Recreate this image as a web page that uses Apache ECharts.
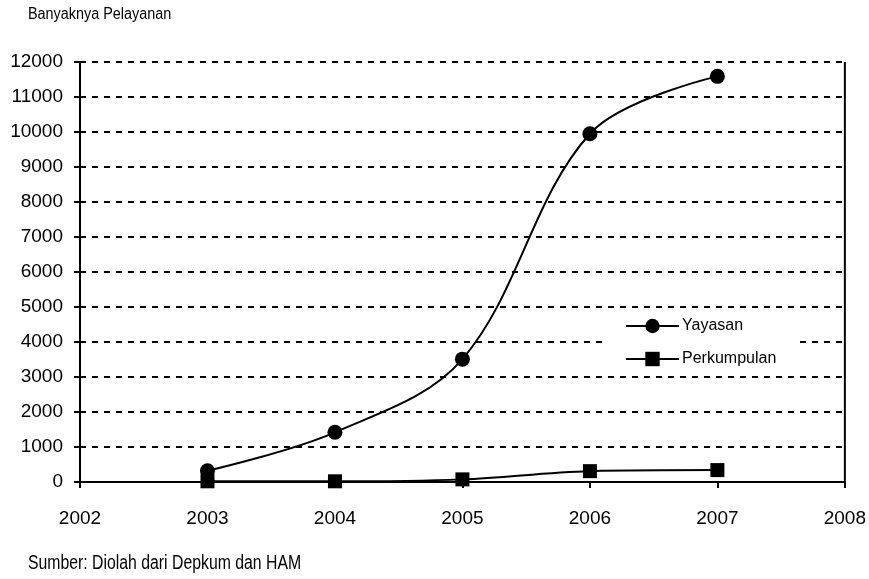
<!DOCTYPE html>
<html>
<head>
<meta charset="utf-8">
<script src="https://cdn.jsdelivr.net/npm/echarts@6/dist/echarts.min.js"></script>
<style>
  html, body { margin: 0; padding: 0; background: #fff; }
  #chart { width: 869px; height: 579px; }
</style>
</head>
<body>
<div id="chart"></div>
<script>
// Jumlah pelayanan badan hukum per tahun
const years = [2003, 2004, 2005, 2006, 2007];
const yayasan = [320, 1420, 3510, 9950, 11590];
const perkumpulan = [20, 20, 75, 310, 340];
const yTicks = [0, 1000, 2000, 3000, 4000, 5000, 6000, 7000, 8000, 9000, 10000, 11000, 12000];
const xMin = 2002, xMax = 2008;

const FONT = '"Liberation Sans", Arial, sans-serif';

const chart = echarts.init(document.getElementById('chart'), null, { renderer: 'canvas' });

const pairs = (xs, ys) => xs.map((x, i) => [x, ys[i]]);

chart.setOption({
  animation: false,
  backgroundColor: '#fff',
  textStyle: { fontFamily: FONT, color: '#000' },
  grid: { left: 80, right: 24, top: 62, bottom: 97, containLabel: false },
  graphic: [
    { type: 'text', left: 28, top: 7, scaleX: 0.9,
      style: { text: 'Banyaknya Pelayanan', font: '16px ' + FONT, fill: '#000' } },
    { type: 'text', left: 28, top: 553, scaleX: 0.79,
      style: { text: 'Sumber: Diolah dari Depkum dan HAM', font: '20px ' + FONT, fill: '#000' } }
  ],
  xAxis: {
    type: 'value', min: xMin, max: xMax, interval: 1,
    axisLine: { show: true, onZero: false, lineStyle: { color: '#000', width: 2 } },
    axisTick: { show: true, length: 6, lineStyle: { color: '#000', width: 2 } },
    axisLabel: { color: '#000', fontSize: 19, fontFamily: FONT, margin: 27,
      formatter: v => String(v) },
    splitLine: { show: false }
  },
  yAxis: {
    type: 'value', min: yTicks[0], max: yTicks[yTicks.length - 1], interval: 1000,
    axisLine: { show: true, lineStyle: { color: '#000', width: 2 } },
    axisTick: { show: true, length: 6, lineStyle: { color: '#000', width: 2 } },
    axisLabel: { color: '#000', fontSize: 19, fontFamily: FONT, margin: 17,
      formatter: v => String(v) },
    splitLine: { show: true, lineStyle: { color: '#000', width: 2, type: [6, 6] } }
  },
  legend: {
    orient: 'vertical', left: 603, top: 311,
    backgroundColor: '#fff',
    padding: [7, 22, 7, 22],
    itemWidth: 53, itemHeight: 18, itemGap: 17,
    lineStyle: { width: 2 },
    textStyle: { fontSize: 16, fontFamily: FONT, color: '#000', padding: [0, 0, 0, -2] },
    data: ['Yayasan', 'Perkumpulan']
  },
  series: [
    {
      name: 'Yayasan', type: 'line', smooth: 0.35,
      data: pairs(years, yayasan),
      symbol: 'circle', symbolSize: 15,
      lineStyle: { color: '#000', width: 2 },
      itemStyle: { color: '#000' },
      z: 3
    },
    {
      name: 'Perkumpulan', type: 'line', smooth: 0.35,
      data: pairs(years, perkumpulan),
      symbol: 'rect', symbolSize: 14,
      lineStyle: { color: '#000', width: 2 },
      itemStyle: { color: '#000' },
      z: 3
    },
    {
      // garis batas kanan area plot
      type: 'line', silent: true, symbol: 'none',
      data: [[xMax, yTicks[0]], [xMax, yTicks[yTicks.length - 1]]],
      lineStyle: { color: '#000', width: 2 }, z: 2
    }
  ]
});
</script>
</body>
</html>
